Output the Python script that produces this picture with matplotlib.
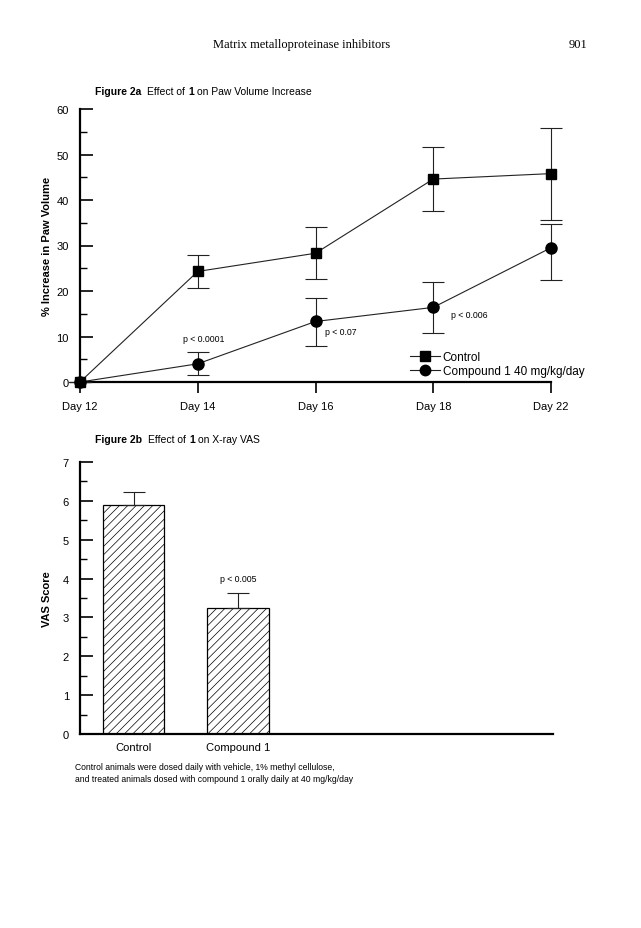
import matplotlib
matplotlib.use("Agg")
import matplotlib.pyplot as plt
from matplotlib.lines import Line2D
import numpy as np

# ---- data ----
days = ["Day 12", "Day 14", "Day 16", "Day 18", "Day 22"]
control_mean = [0, 24.3, 28.3, 44.6, 45.8]
control_err = [0, 3.7, 5.7, 7.0, 10.1]
compound_mean = [0, 4.0, 13.3, 16.4, 29.5]
compound_err_low = [0, 2.5, 5.3, 5.6, 7.0]
compound_err_high = [0, 2.5, 5.1, 5.5, 5.2]
pvals_a = ["p < 0.0001", "p < 0.07", "p < 0.006"]

bar_labels = ["Control", "Compound 1"]
vas_mean = [5.9, 3.25]
vas_err = [0.33, 0.38]
pval_b = "p < 0.005"

W, H = 641, 929
fig = plt.figure(figsize=(W / 100, H / 100), dpi=100)
sans = ["Liberation Sans", "DejaVu Sans"]
serif = ["Liberation Serif", "DejaVu Serif"]

def fx(px):
    return px / W

def fy(py):
    return 1 - py / H

# header
fig.text(fx(302), fy(45), "Matrix metalloproteinase inhibitors", family=serif,
         fontsize=9, ha="center", va="center")
fig.text(fx(587), fy(45), "901", family=serif, fontsize=9, ha="right", va="center")

# titles
def fig_title(x, y, pieces):
    cur = fx(x)
    fig.canvas.draw()
    for txt, bold, gap in pieces:
        t = fig.text(cur, fy(y), txt, family=sans, fontsize=7.5,
                     weight="bold" if bold else "normal", ha="left", va="center")
        bb = t.get_window_extent(renderer=fig.canvas.get_renderer())
        cur = bb.x1 / W + gap / W

fig_title(95, 92, [("Figure 2a", True, 6), ("Effect of", False, 3), ("1", True, 3),
                   ("on Paw Volume Increase", False, 0)])
fig_title(95, 440, [("Figure 2b", True, 6), ("Effect of", False, 3), ("1", True, 3),
                    ("on X-ray VAS", False, 0)])

# ---- Figure 2a ----
ax = fig.add_axes([fx(80), fy(383), fx(551 - 80), (383 - 110) / H])
x = np.arange(len(days))
ax.errorbar(x, control_mean, yerr=control_err, color="#222222", lw=0.8,
            marker="s", ms=7.5, mfc="black", mec="black", capsize=8, capthick=0.8,
            elinewidth=0.8, clip_on=False, zorder=3)
ax.errorbar(x, compound_mean, yerr=[compound_err_low, compound_err_high], color="#222222",
            lw=0.8, marker="o", ms=8, mfc="black", mec="black", capsize=8,
            capthick=0.8, elinewidth=0.8, clip_on=False, zorder=3)
ax.set_xlim(0, 4)
ax.set_ylim(0, 60)
ax.set_xticks(x)
ax.set_xticklabels(days, family=sans, fontsize=8)
ax.set_yticks(np.arange(0, 61, 10))
ax.set_yticks(np.arange(0, 61, 5), minor=True)
ax.set_yticklabels([str(v) for v in range(0, 61, 10)], family=sans, fontsize=8)
ax.tick_params(axis="y", which="major", direction="in", length=9, width=1.2, pad=8)
ax.tick_params(axis="y", which="minor", direction="in", length=5, width=1.0)
ax.tick_params(axis="x", which="major", direction="out", length=8, width=1.2, pad=6)
for s in ["top", "right"]:
    ax.spines[s].set_visible(False)
ax.spines["left"].set_linewidth(1.6)
ax.spines["bottom"].set_linewidth(1.6)
ax.set_ylabel("% Increase in Paw Volume", family=sans, fontsize=8, weight="bold",
              labelpad=3)
ax.patch.set_alpha(0)

ax.text(1.05, 9.5, pvals_a[0], family=sans, fontsize=6.3, ha="center", va="center")
ax.text(2.08, 11.0, pvals_a[1], family=sans, fontsize=6.3, ha="left", va="center")
ax.text(3.15, 14.8, pvals_a[2], family=sans, fontsize=6.3, ha="left", va="center")

h1 = Line2D([], [], color="#222222", lw=0.8, marker="s", ms=7, mfc="black", mec="black")
h2 = Line2D([], [], color="#222222", lw=0.8, marker="o", ms=7.5, mfc="black", mec="black")
leg = ax.legend([h1, h2], ["Control", "Compound 1 40 mg/kg/day"],
                loc="lower left", bbox_to_anchor=((405 - 80) / 471, 0.0),
                frameon=False, handlelength=2.6, handletextpad=0.2, labelspacing=0.2,
                borderaxespad=0, prop={"family": sans, "size": 8.5})

# ---- Figure 2b ----
bx = fig.add_axes([fx(80), fy(735), fx(553 - 80), (735 - 463) / H])
xb = np.arange(len(bar_labels))
plt.rcParams["hatch.linewidth"] = 0.5
bx.bar(xb, vas_mean, width=0.59, color="white", edgecolor="black", lw=0.9,
       hatch="////", zorder=2)
bx.errorbar(xb, vas_mean, yerr=[[0, 0], vas_err], fmt="none", ecolor="#222222",
            elinewidth=0.8, capsize=8, capthick=0.8, zorder=3)
bx.set_xlim(-0.512, 4.01)
bx.set_ylim(0, 7)
bx.set_xticks(xb)
bx.set_xticklabels(bar_labels, family=sans, fontsize=8)
bx.set_yticks(np.arange(0, 8, 1))
bx.set_yticks(np.arange(0, 7.01, 0.5), minor=True)
bx.set_yticklabels([str(v) for v in range(0, 8)], family=sans, fontsize=8)
bx.tick_params(axis="y", which="major", direction="in", length=9, width=1.2, pad=8)
bx.tick_params(axis="y", which="minor", direction="in", length=5, width=1.0)
bx.tick_params(axis="x", length=0, pad=6)
for s in ["top", "right"]:
    bx.spines[s].set_visible(False)
bx.spines["left"].set_linewidth(1.6)
bx.spines["bottom"].set_linewidth(1.6)
bx.set_ylabel("VAS Score", family=sans, fontsize=8, weight="bold", labelpad=8)
bx.patch.set_alpha(0)
bx.text(1.0, 4.0, pval_b, family=sans, fontsize=6.3, ha="center", va="center")

fig.text(fx(75), fy(767), "Control animals were dosed daily with vehicle, 1% methyl cellulose,",
         family=sans, fontsize=6.2, ha="left", va="center")
fig.text(fx(75), fy(780), "and treated animals dosed with compound 1 orally daily at 40 mg/kg/day",
         family=sans, fontsize=6.2, ha="left", va="center")

fig.savefig("out.png", dpi=100)
